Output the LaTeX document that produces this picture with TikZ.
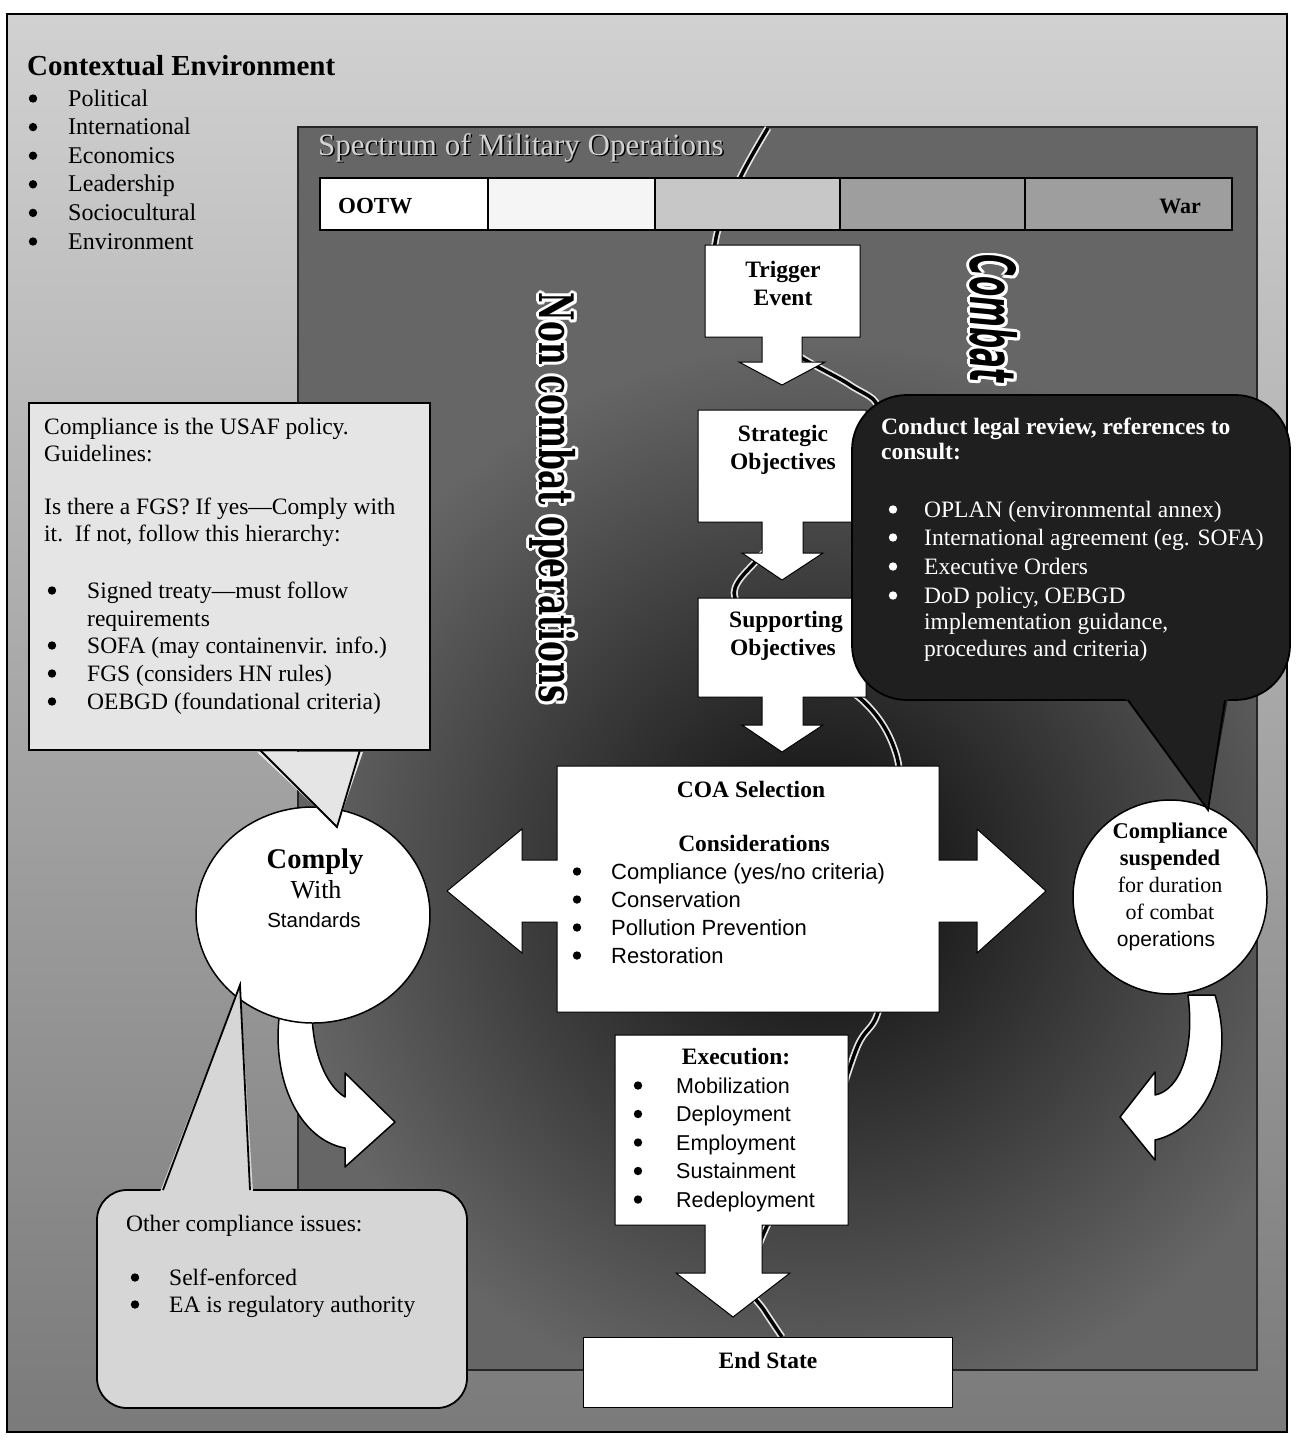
\documentclass[tikz,border=0pt]{standalone}
\usepackage{fontspec}
\usepackage{graphicx}
\setmainfont{Liberation Serif}
\newfontfamily\sansf{Liberation Sans}
\newfontfamily\slabf{DejaVu Serif}
\newfontfamily\heavyf{DejaVu Sans}
\newcommand{\bdot}[3][black]{\fill[#1] (#2,{#3-7.5}) circle (4.2);}
\begin{document}
\begin{tikzpicture}[x=1pt,y=-1pt,
  tx/.style={inner sep=0, anchor=base west, font=\fontsize{23.5}{28}\selectfont},
  txc/.style={inner sep=0, anchor=base, font=\bfseries\fontsize{23.5}{28}\selectfont},
  sx/.style={inner sep=0, anchor=base west, font=\sansf\fontsize{22}{26}\selectfont},
  wbox/.style={fill=white, draw=black, line width=1pt},
  callout/.style={draw=black, line width=1.8pt},
  divline/.style={line width=3.5pt, black},
  divhalo/.style={line width=7pt, black!10},
  circ/.style={fill=white, draw=black, line width=1.5pt},
  curvarrow/.style={fill=white, draw=black, line width=1.5pt, line join=round}]
\useasboundingbox (0,0) rectangle (1298,1443);
\fill[white] (0,0) rectangle (1298,1443);
% outer background
\shade[top color=black!18, bottom color=black!52] (7,14) rectangle (1287,1432);
\draw[line width=1.6pt] (7,14) rectangle (1287,1432);
% inner panel
\fill[black!60] (298,127) rectangle (1257,1370);
\begin{scope}
  \clip (298,127) rectangle (1257,1370);
  \shade[inner color=black!96, outer color=black!60] (820,880) circle (540);
\end{scope}
\draw[line width=1.5pt, black!85] (298,127) rectangle (1257,1370);
% title
\node[tx, font=\fontsize{31}{34}\selectfont, text=black] at (319.5,156.5) {Spectrum of Military Operations};
\node[tx, font=\fontsize{31}{34}\selectfont, text=black!18] (title) at (318,155) {Spectrum of Military Operations};
% dividing curve
\draw[divhalo] plot[smooth, tension=0.55] coordinates {(768,128) (740,178) (716,238) (720,290) (790,350) (850,385) (878,410) (850,470) (790,530) (757,560) (735,598) (790,650) (862,700) (893,745) (900,800) (890,950) (877,1015) (858,1045) (830,1120) (790,1180) (757,1250) (752,1290) (764,1310) (782,1337)};
\draw[divline] plot[smooth, tension=0.55] coordinates {(768,128) (740,178) (716,238) (720,290) (790,350) (850,385) (878,410) (850,470) (790,530) (757,560) (735,598) (790,650) (862,700) (893,745) (900,800) (890,950) (877,1015) (858,1045) (830,1120) (790,1180) (757,1250) (752,1290) (764,1310) (782,1337)};
% spectrum bar
\foreach \xa/\xb/\c in {320/488/white, 488/655/black!4, 655/840/black!22, 840/1025/black!38, 1025/1232/black!38}
  \draw[fill=\c, line width=1.2pt] (\xa,178) rectangle (\xb,230);
\node[tx, font=\bfseries\fontsize{23}{26}\selectfont] (ootw) at (338,213) {OOTW};
\node[tx, anchor=base east, font=\bfseries\fontsize{22}{26}\selectfont] (war) at (1201,213) {War};
% vertical texts
\foreach \a in {0,30,...,330}
  \node[rotate=-90, inner sep=0, text=white] at ({553+3*cos(\a)},{498+3*sin(\a)}) {\resizebox*{410pt}{46pt}{\slabf\bfseries Non combat operations}};
\node[rotate=-90, inner sep=0] (noncombat) at (553,498) {\resizebox*{410pt}{46pt}{\slabf\bfseries Non combat operations}};
\foreach \a in {0,30,...,330}
  \node[rotate=-90, inner sep=0, text=white] at ({994+3*cos(\a)},{319+3*sin(\a)}) {\resizebox*{128pt}{48pt}{\heavyf\bfseries\itshape Combat}};
\node[rotate=-90, inner sep=0] (combat) at (994,319) {\resizebox*{128pt}{48pt}{\heavyf\bfseries\itshape Combat}};
% process boxes
\path[wbox] (705,245) -- (860,245) -- (860,337) -- (802,337) -- (802,362) -- (825,362) -- (782,385) -- (739,362) -- (762,362) -- (762,337) -- (705,337) -- cycle;
\node[txc] (trig1) at (783,277) {Trigger};
\node[txc] (trig2) at (783,305) {Event};
\path[wbox] (698,410) -- (866,410) -- (866,522) -- (803,522) -- (803,553) -- (823,553) -- (782,580) -- (742,553) -- (762,553) -- (762,522) -- (698,522) -- cycle;
\node[txc] (strat1) at (783,441) {Strategic};
\node[txc] (strat2) at (783,469) {Objectives};
\path[wbox] (698,598) -- (866,598) -- (866,697) -- (803,697) -- (803,725) -- (823,725) -- (782,752) -- (742,725) -- (762,725) -- (762,697) -- (698,697) -- cycle;
\node[txc] (supp1) at (786,627) {Supporting};
\node[txc] (supp2) at (783,655) {Objectives};
% COA double arrow
\path[wbox] (557,766) -- (939,766) -- (939,860) -- (977,860) -- (977,829) -- (1046,891) -- (977,953) -- (977,922) -- (939,922) -- (939,1012) -- (557,1012) -- (557,922) -- (522,922) -- (522,953) -- (447,891) -- (522,829) -- (522,860) -- (557,860) -- cycle;
\node[txc] (coa) at (751,797) {COA Selection};
\node[txc] (cons) at (754,851) {Considerations};
\foreach \t [count=\i] in {Compliance (yes/no criteria),Conservation,Pollution Prevention,Restoration}{
  \node[sx] (coa\i) at (611,{879+28*(\i-1)}) {\t};
  \bdot{577}{879+28*(\i-1)}
}
% execution
\path[wbox] (615,1035) -- (848,1035) -- (848,1225) -- (762,1225) -- (762,1273) -- (790,1273) -- (733,1317) -- (676,1273) -- (705,1273) -- (705,1225) -- (615,1225) -- cycle;
\node[txc] (exec) at (736,1064) {Execution:};
\foreach \t [count=\i] in {Mobilization,Deployment,Employment,Sustainment,Redeployment}{
  \node[sx, font=\sansf\fontsize{21.5}{26}\selectfont] (ex\i) at (676,{1093+28.5*(\i-1)}) {\t};
  \bdot{638}{1093+28.5*(\i-1)}
}
% end state
\draw[wbox] (583,1337) rectangle (952,1407);
\node[txc] (end) at (768,1368) {End State};
% contextual environment
\node[tx, font=\bfseries\fontsize{29}{32}\selectfont] (ctx) at (27,75) {Contextual Environment};
\foreach \t [count=\i] in {Political,International,Economics,Leadership,Sociocultural,Environment}{
  \node[tx, font=\fontsize{24}{28}\selectfont] (ctx\i) at (68,{106+28.6*(\i-1)}) {\t};
  \bdot{33}{106+28.6*(\i-1)}
}
% curved arrows
\path[curvarrow] (280,1010) .. controls (270,1080) and (300,1140) .. (345,1148) -- (345,1167) -- (395,1122) -- (345,1073) -- (345,1097) .. controls (325,1085) and (312,1050) .. (312,1010) -- cycle;
\path[curvarrow] (1215,995) .. controls (1238,1070) and (1200,1130) .. (1155,1140) -- (1155,1160) -- (1120,1117) -- (1155,1072) -- (1155,1095) .. controls (1180,1090) and (1195,1050) .. (1188,995) -- cycle;
% circles
\path[circ] (313,915) ellipse [x radius=117, y radius=108];
\node[txc, font=\bfseries\fontsize{28.5}{30}\selectfont] (comply1) at (315,868) {Comply};
\node[txc, font=\fontsize{26}{30}\selectfont] (comply2) at (316,898) {With};
\node[txc, font=\sansf\fontsize{20.5}{24}\selectfont] (comply3) at (314,927) {Standards};
\path[circ] (1170,897) circle (97);
\node[txc, font=\bfseries\fontsize{22.5}{26}\selectfont] (susp1) at (1170,838) {Compliance};
\node[txc, font=\bfseries\fontsize{22.5}{26}\selectfont] (susp2) at (1170,865) {suspended};
\node[txc, font=\fontsize{22}{26}\selectfont] (susp3) at (1170,892) {for duration};
\node[txc, font=\fontsize{22}{26}\selectfont] (susp4) at (1170,919) {of combat};
\node[txc, font=\sansf\fontsize{21}{26}\selectfont] (susp5) at (1166,946) {operations};
% left callout
\path[callout, fill=black!10] (29,403) rectangle (430,750);
\fill[black!10] (257,752) -- (337,827) -- (363,752) -- cycle;
\draw[line width=1.8pt, line join=miter] (260,750) -- (337,827) -- (360,750);
\node[tx] (l1) at (44,434) {Compliance is the USAF policy.};
\node[tx] (l2) at (44,461) {Guidelines:};
\node[tx] (l3) at (44,514) {Is there a FGS? If yes—Comply with};
\node[tx] (l4) at (44,541) {it.\ \ If not, follow this hierarchy:};
\node[tx] (l5) at (87,598) {Signed treaty—must follow};
\node[tx] (l6) at (87,626) {requirements};
\node[tx] (l7) at (87,653) {SOFA (may containenvir. info.)};
\node[tx] (l8) at (87,681) {FGS (considers HN rules)};
\node[tx] (l9) at (87,709) {OEBGD (foundational criteria)};
\foreach \y in {598,653,681,709} {\bdot{52}{\y}}
% right callout
\path[callout, fill=black!88, rounded corners=55pt] (852,395) rectangle (1290,700);
\fill[black!88] (1125,698) -- (1208,810) -- (1228,698) -- cycle;
\draw[line width=1.8pt, line join=miter] (1128,700) -- (1208,810) -- (1225,700);
\begin{scope}[every node/.append style={text=white}]
\node[tx, font=\bfseries\fontsize{23.5}{28}\selectfont] (r1) at (881,434) {Conduct legal review, references to};
\node[tx, font=\bfseries\fontsize{23.5}{28}\selectfont] (r2) at (881,459) {consult:};
\node[tx] (r3) at (924,517) {OPLAN (environmental annex)};
\node[tx] (r4) at (924,545) {International agreement (eg. SOFA)};
\node[tx] (r5) at (924,574) {Executive Orders};
\node[tx] (r6) at (924,603) {DoD policy, OEBGD};
\node[tx] (r7) at (924,629) {implementation guidance,};
\node[tx] (r8) at (924,656) {procedures and criteria)};
\end{scope}
\foreach \y in {517,545,574,603} {\bdot[white]{893}{\y}}
% bottom callout
\path[callout, fill=black!16, rounded corners=30pt] (97,1190) rectangle (467,1408);
\fill[black!16] (160,1192) -- (240,985) -- (253,1192) -- cycle;
\draw[line width=1.8pt, line join=miter] (163,1190) -- (240,985) -- (250,1190);
\node[tx] (b1) at (126,1231) {Other compliance issues:};
\node[tx] (b2) at (169,1285) {Self-enforced};
\node[tx] (b3) at (169,1312) {EA is regulatory authority};
\foreach \y in {1285,1312} {\bdot{135}{\y}}
\end{tikzpicture}
\end{document}
